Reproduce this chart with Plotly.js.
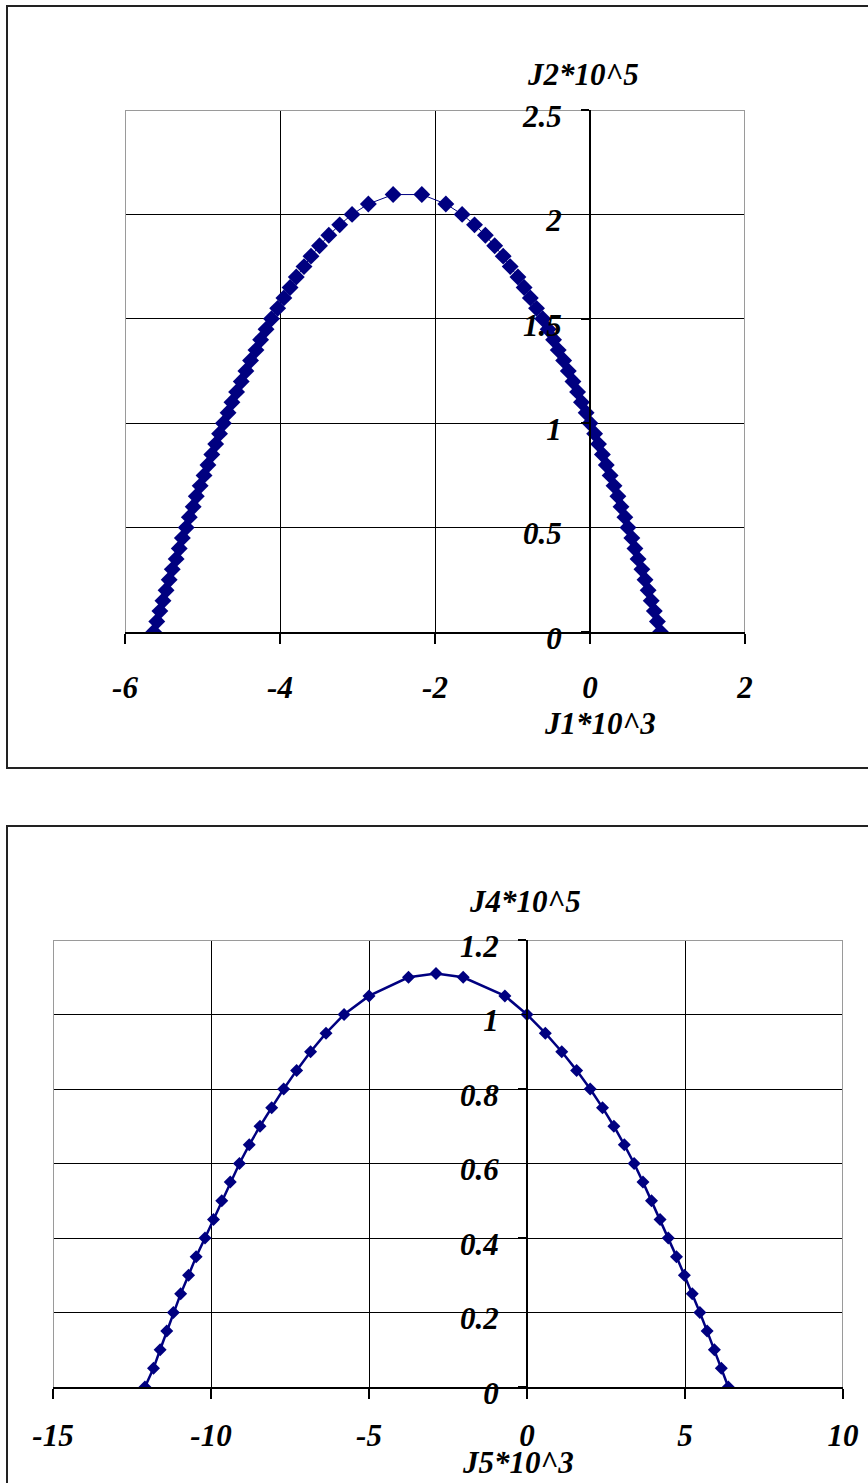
<!DOCTYPE html>
<html>
<head>
<meta charset="utf-8">
<script src="https://cdn.plot.ly/plotly-3.0.1.min.js"></script>
<style>
  html, body { margin: 0; padding: 0; background: #ffffff; }
  #chart { width: 868px; height: 1483px; }
</style>
</head>
<body>
<div id="chart"></div>
<script>
// ---- Top chart: J2*10^5 versus J1*10^3 ----
const J1 = [
  -5.63, -5.59, -5.55, -5.51, -5.47, -5.43, -5.39, -5.34, -5.30, -5.26,
  -5.21, -5.17, -5.12, -5.08, -5.03, -4.98, -4.93, -4.88, -4.83, -4.78,
  -4.73, -4.67, -4.62, -4.56, -4.50, -4.44, -4.38, -4.31, -4.25, -4.18,
  -4.11, -4.03, -3.95, -3.87, -3.79, -3.69, -3.60, -3.49, -3.37, -3.23,
  -3.07, -2.86, -2.54, -2.17,
  -1.86, -1.65, -1.49, -1.35, -1.23, -1.12, -1.03, -0.93, -0.85, -0.77,
  -0.69, -0.61, -0.54, -0.47, -0.41, -0.34, -0.28, -0.22, -0.16, -0.11,
  -0.05, 0.00, 0.06, 0.11, 0.16, 0.21, 0.26, 0.31, 0.36, 0.40,
  0.45, 0.49, 0.54, 0.58, 0.62, 0.67, 0.71, 0.75, 0.79, 0.83,
  0.87, 0.91
];
const J2 = [
  0.00, 0.05, 0.10, 0.15, 0.20, 0.25, 0.30, 0.35, 0.40, 0.45,
  0.50, 0.55, 0.60, 0.65, 0.70, 0.75, 0.80, 0.85, 0.90, 0.95,
  1.00, 1.05, 1.10, 1.15, 1.20, 1.25, 1.30, 1.35, 1.40, 1.45,
  1.50, 1.55, 1.60, 1.65, 1.70, 1.75, 1.80, 1.85, 1.90, 1.95,
  2.00, 2.05, 2.095, 2.095,
  2.05, 2.00, 1.95, 1.90, 1.85, 1.80, 1.75, 1.70, 1.65, 1.60,
  1.55, 1.50, 1.45, 1.40, 1.35, 1.30, 1.25, 1.20, 1.15, 1.10,
  1.05, 1.00, 0.95, 0.90, 0.85, 0.80, 0.75, 0.70, 0.65, 0.60,
  0.55, 0.50, 0.45, 0.40, 0.35, 0.30, 0.25, 0.20, 0.15, 0.10,
  0.05, 0.00
];

// ---- Bottom chart: J4*10^5 versus J5*10^3 ----
const J5 = [
  -12.09, -11.82, -11.61, -11.40, -11.19, -10.96, -10.71, -10.47, -10.19, -9.92,
  -9.66, -9.39, -9.10, -8.79, -8.45, -8.08, -7.70, -7.29, -6.85, -6.36,
  -5.79, -5.00, -3.75, -2.88, -2.02, -0.70,
  0.00, 0.58, 1.10, 1.57, 2.00, 2.39, 2.75, 3.08, 3.39, 3.67,
  3.94, 4.21, 4.47, 4.73, 4.98, 5.23, 5.47, 5.70, 5.93, 6.15, 6.37
];
const J4 = [
  0.00, 0.05, 0.10, 0.15, 0.20, 0.25, 0.30, 0.35, 0.40, 0.45,
  0.50, 0.55, 0.60, 0.65, 0.70, 0.75, 0.80, 0.85, 0.90, 0.95,
  1.00, 1.05, 1.10, 1.11, 1.10, 1.05,
  1.00, 0.95, 0.90, 0.85, 0.80, 0.75, 0.70, 0.65, 0.60, 0.55,
  0.50, 0.45, 0.40, 0.35, 0.30, 0.25, 0.20, 0.15, 0.10, 0.05, 0.00
];

// ---- Tick labels ----
const topXTickVals = [-6, -4, -2, 0, 2];
const topXTickText = ["-6", "-4", "-2", "0", "2"];
const topYTickVals = [0, 0.5, 1, 1.5, 2, 2.5];
const topYTickText = ["0", "0.5", "1", "1.5", "2", "2.5"];
const botXTickVals = [-15, -10, -5, 0, 5, 10];
const botXTickText = ["-15", "-10", "-5", "0", "5", "10"];
const botYTickVals = [0, 0.2, 0.4, 0.6, 0.8, 1, 1.2];
const botYTickText = ["0", "0.2", "0.4", "0.6", "0.8", "1", "1.2"];

const W = 868, H = 1483;
const px = v => v / W;
const py = v => 1 - v / H;

const NAVY = '#000080';
const FONT = { family: '"Liberation Serif", "Times New Roman", serif', size: 31, color: '#000000', weight: 'bold', style: 'italic' };

const traces = [
  {
    x: J1, y: J2, xaxis: 'x', yaxis: 'y', type: 'scatter', mode: 'lines+markers',
    line: { color: NAVY, width: 1 },
    marker: { symbol: 'diamond', size: 13, color: NAVY },
    hoverinfo: 'none'
  },
  {
    x: J5, y: J4, xaxis: 'x2', yaxis: 'y2', type: 'scatter', mode: 'lines+markers',
    line: { color: NAVY, width: 2.5 },
    marker: { symbol: 'diamond', size: 10, color: NAVY },
    hoverinfo: 'none'
  }
];

const xCommon = {
  showgrid: true, gridcolor: '#000000', gridwidth: 1,
  zeroline: false, showline: true, linecolor: '#000000', linewidth: 1.5,
  ticks: 'outside', ticklen: 10, tickwidth: 1.5, tickcolor: '#000000',
  tickmode: 'array', tickfont: FONT, fixedrange: true
};
const yCommon = {
  showgrid: true, gridcolor: '#000000', gridwidth: 1,
  zeroline: false, showline: true, linecolor: '#000000', linewidth: 2,
  ticks: 'outside', ticklen: 8, tickwidth: 1.5, tickcolor: '#000000',
  tickmode: 'array', tickfont: FONT, side: 'left', fixedrange: true,
  ticklabelstandoff: 13, ticklabelshift: 6
};

const layout = {
  width: W, height: H,
  margin: { l: 0, r: 0, t: 0, b: 0, pad: 0 },
  paper_bgcolor: '#ffffff', plot_bgcolor: 'rgba(0,0,0,0)',
  showlegend: false,
  xaxis: Object.assign({}, xCommon, {
    domain: [px(125), px(745)], range: [-6, 2], anchor: 'y',
    tickvals: topXTickVals, ticktext: topXTickText, ticklabelstandoff: 17
  }),
  yaxis: Object.assign({}, yCommon, {
    domain: [py(632), py(110)], range: [0, 2.5], anchor: 'free',
    position: px(590), tickvals: topYTickVals, ticktext: topYTickText
  }),
  xaxis2: Object.assign({}, xCommon, {
    domain: [px(53), px(843)], range: [-15, 10], anchor: 'y2',
    tickvals: botXTickVals, ticktext: botXTickText, ticklabelstandoff: 10
  }),
  yaxis2: Object.assign({}, yCommon, {
    domain: [py(1387), py(940)], range: [0, 1.2], anchor: 'free',
    position: px(527), tickvals: botYTickVals, ticktext: botYTickText
  }),
  shapes: [
    // outer frames
    { type: 'rect', xref: 'paper', yref: 'paper', x0: px(7), x1: 1.05, y0: py(768), y1: py(6),
      line: { color: '#222222', width: 2 }, fillcolor: 'rgba(0,0,0,0)', layer: 'below' },
    { type: 'rect', xref: 'paper', yref: 'paper', x0: px(7), x1: 1.05, y0: -0.05, y1: py(826),
      line: { color: '#222222', width: 2 }, fillcolor: 'rgba(0,0,0,0)', layer: 'below' },
    // grey plot-area borders (top chart)
    { type: 'line', xref: 'x', yref: 'y', x0: -6, x1: 2, y0: 2.5, y1: 2.5, line: { color: '#9a9a9a', width: 2 }, layer: 'between' },
    { type: 'line', xref: 'x', yref: 'y', x0: -6, x1: -6, y0: 0, y1: 2.5, line: { color: '#9a9a9a', width: 2 }, layer: 'between' },
    { type: 'line', xref: 'x', yref: 'y', x0: 2, x1: 2, y0: 0, y1: 2.5, line: { color: '#9a9a9a', width: 2 }, layer: 'between' },
    // grey plot-area borders (bottom chart)
    { type: 'line', xref: 'x2', yref: 'y2', x0: -15, x1: 10, y0: 1.2, y1: 1.2, line: { color: '#9a9a9a', width: 2 }, layer: 'between' },
    { type: 'line', xref: 'x2', yref: 'y2', x0: -15, x1: -15, y0: 0, y1: 1.2, line: { color: '#9a9a9a', width: 2 }, layer: 'between' },
    { type: 'line', xref: 'x2', yref: 'y2', x0: 10, x1: 10, y0: 0, y1: 1.2, line: { color: '#9a9a9a', width: 2 }, layer: 'between' }
  ],
  annotations: [
    { text: 'J2*10^5', xref: 'paper', yref: 'paper', x: px(583), y: py(74), xanchor: 'center', yanchor: 'middle', showarrow: false, font: FONT },
    { text: 'J1*10^3', xref: 'paper', yref: 'paper', x: px(600), y: py(723), xanchor: 'center', yanchor: 'middle', showarrow: false, font: FONT },
    { text: 'J4*10^5', xref: 'paper', yref: 'paper', x: px(525), y: py(901), xanchor: 'center', yanchor: 'middle', showarrow: false, font: FONT },
    { text: 'J5*10^3', xref: 'paper', yref: 'paper', x: px(518), y: py(1462), xanchor: 'center', yanchor: 'middle', showarrow: false, font: FONT }
  ]
};

Plotly.newPlot('chart', traces, layout, { staticPlot: true, displayModeBar: false });
</script>
</body>
</html>
